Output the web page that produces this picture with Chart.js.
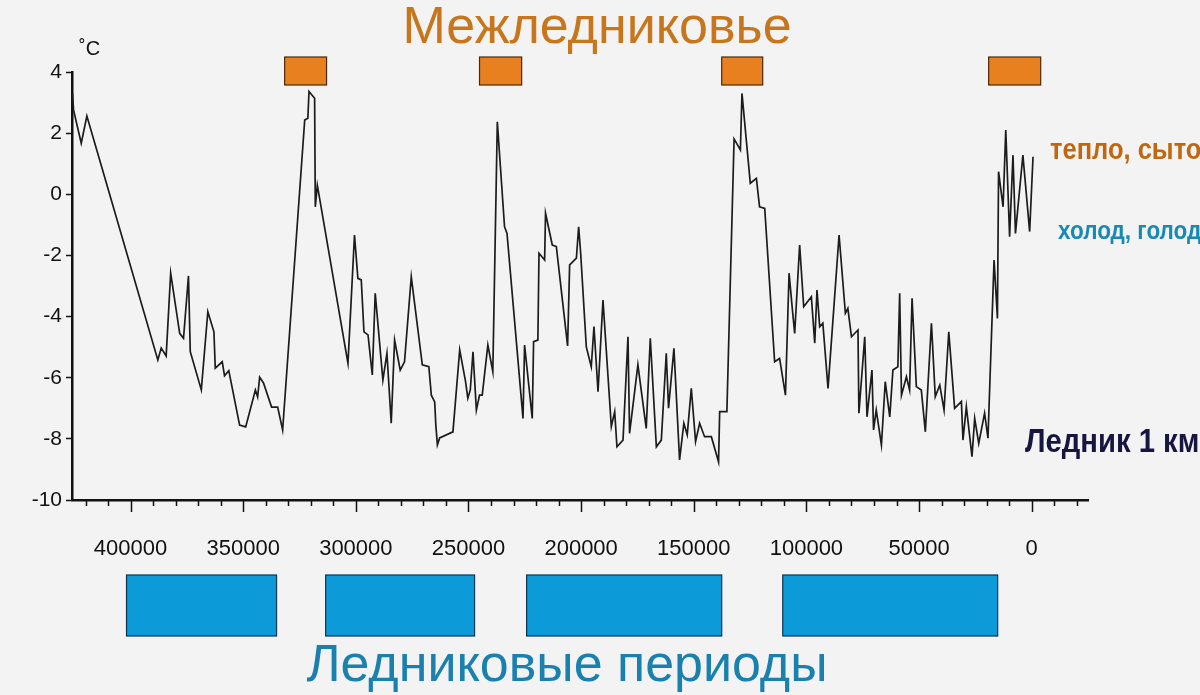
<!DOCTYPE html>
<html>
<head>
<meta charset="utf-8">
<script src="https://cdn.jsdelivr.net/npm/chart.js@4/dist/chart.umd.min.js"></script>
<style>
  body { margin: 0; background: #f3f3f3; }
  canvas { display: block; }
</style>
</head>
<body>
<canvas id="chart" width="1200" height="695"></canvas>
<script>
// years before present / temperature anomaly
const ages = [
  425800, 425300, 421900, 419400, 387900, 386400, 384200, 382200, 378200, 376500, 374300,
  373500, 368600, 365700, 363000, 362400, 359300, 358300, 356400, 351600, 348900,
  344600, 343600, 342700, 341000, 337400, 334700, 332500, 322700, 321300, 320800,
  318300, 318000, 317100, 303500, 300600, 299100, 297600, 296400, 294600, 292700,
  291400, 288000, 286200, 284300, 282800, 280300, 278400, 275400, 270500, 267600,
  266500, 265000, 264500, 263800, 262800, 256900, 253900, 251300, 250300, 249200,
  248000, 246500, 245100, 243900, 241400, 239200, 237200, 234000, 232900, 225800,
  225100, 221700, 221100, 219200, 218700, 216200, 215800, 212800, 211000, 206000,
  205100, 202100, 201100, 200200, 197700, 195500, 194300, 192500, 190300, 186600,
  185100, 184100, 181400, 179200, 178500, 174800, 171100, 169300, 166600, 164400,
  162200, 161200, 158800, 156300, 154400, 152900, 151100, 149200, 147400, 145200,
  142200, 139000, 138500, 135300, 132100, 129300, 128600, 124900, 122200, 120800,
  118500, 114100, 111900, 109300, 107700, 106200, 105200, 103000, 101200, 97800,
  96300, 95300, 94100, 92700, 90400, 85500, 82700, 81600, 80000, 77100,
  76700, 74100, 73100, 70900, 70200, 69000, 66700, 65000, 63000, 61600,
  59400, 58600, 57800, 55600, 54200, 53100, 51200, 49000, 47200, 44500,
  42800, 40800, 38900, 36800, 34200, 31200, 30500, 29000, 26500, 25300,
  23500, 20900, 19400, 16700, 15200, 14700, 12700, 11500, 9800, 8300,
  7200, 3900, 900, -600
];
const temps = [
  3.3, 2.75, 1.67, 2.56, -5.42, -5.03, -5.29, -2.58, -4.55, -4.71, -2.67,
  -5.15, -6.40, -3.84, -4.50, -5.69, -5.48, -5.94, -5.77, -7.55, -7.61,
  -6.40, -6.63, -5.98, -6.17, -6.96, -6.96, -7.71, 2.43, 2.49, 3.36,
  3.14, -0.41, 0.30, -5.53, -1.33, -2.75, -2.80, -4.50, -4.60, -5.91,
  -3.24, -6.08, -5.20, -7.49, -4.77, -5.75, -5.48, -2.70, -5.58, -5.64,
  -6.57, -6.79, -7.55, -8.20, -7.97, -7.77, -5.09, -6.13, -6.67, -6.40,
  -5.15, -7.06, -6.57, -6.57, -4.93, -5.80, 2.37, -1.06, -1.28, -7.33,
  -4.93, -7.33, -4.82, -4.77, -1.93, -2.15, -0.62, -1.66, -1.71, -4.96,
  -2.31, -2.09, -1.06, -1.93, -4.99, -5.64, -4.33, -6.46, -3.46, -7.60,
  -7.11, -8.26, -8.04, -4.66, -7.82, -5.58, -7.66, -4.71, -8.26, -8.04,
  -5.20, -7.00, -5.04, -8.69, -7.49, -7.87, -6.35, -8.09, -7.49, -7.93,
  -7.93, -8.75, -7.11, -7.11, 1.81, 1.45, 3.30, 0.36, 0.52, -0.41,
  -0.46, -5.48, -5.37, -6.57, -2.58, -3.79, -4.55, -1.66, -3.68, -3.35,
  -4.87, -3.13, -4.33, -4.22, -6.35, -1.33, -3.89, -3.73, -4.66, -4.44,
  -7.16, -4.66, -7.28, -5.75, -7.71, -7.06, -8.20, -6.13, -7.28, -5.75,
  -5.64, -3.24, -6.57, -5.97, -6.40, -3.40, -6.29, -6.40, -7.77, -4.22,
  -6.62, -6.24, -7.06, -4.50, -7.00, -6.78, -8.04, -6.95, -8.58, -7.33,
  -8.15, -7.16, -7.98, -2.15, -4.06, 0.74, -0.41, 2.10, -1.39, 1.28,
  -1.28, 1.28, -1.22, 1.23
];

// periods, [from, to] in years before present
const interglacials = [[331600, 313000], [245100, 226400], [137600, 119400], [19100, -4000]];
const glacials = [[401800, 335200], [313400, 247300], [224200, 137600], [110500, 15100]];

const xTicks = [0, 50000, 100000, 150000, 200000, 250000, 300000, 350000, 400000];
const xMinorStep = 10000;

const SANS = '"Liberation Sans", Arial, sans-serif';

const decor = {
  id: 'decor',
  afterDraw(chart) {
    const { ctx, chartArea: area, scales: { x } } = chart;
    ctx.save();

    // x ticks, long every 50000, short every 10000
    ctx.strokeStyle = '#111';
    ctx.lineWidth = 1.5;
    for (let v = -20000; v <= 420000; v += xMinorStep) {
      const px = Math.round(x.getPixelForValue(v)) + 0.5;
      const len = xTicks.includes(v) ? 12 : 6;
      ctx.beginPath();
      ctx.moveTo(px, area.bottom);
      ctx.lineTo(px, area.bottom + len);
      ctx.stroke();
    }

    // period boxes
    const box = (range, top, h, fill, stroke) => {
      const x1 = x.getPixelForValue(range[0]);
      const x2 = x.getPixelForValue(range[1]);
      ctx.fillStyle = fill;
      ctx.fillRect(x1, top, x2 - x1, h);
      ctx.strokeStyle = stroke;
      ctx.lineWidth = 1.2;
      ctx.strokeRect(x1, top, x2 - x1, h);
    };
    interglacials.forEach(r => box(r, area.top - 15, 28, '#e8801f', '#4a2a08'));
    glacials.forEach(r => box(r, area.bottom + 75, 61, '#0c9ad8', '#0b3550'));

    // texts
    ctx.textBaseline = 'middle';
    ctx.textAlign = 'center';
    ctx.fillStyle = '#c8761c';
    ctx.font = '52px ' + SANS;
    ctx.fillText('Межледниковье', 597, 29);
    ctx.fillStyle = '#1a80ae';
    ctx.fillText('Ледниковые периоды', 567, 667);

    ctx.textAlign = 'left';
    ctx.fillStyle = '#111';
    ctx.font = '20px ' + SANS;
    ctx.fillText('˚C', 79, 49);

    // condensed bold labels on the right
    const narrow = (text, left, y, size, sx, color) => {
      ctx.save();
      ctx.translate(left, y);
      ctx.scale(sx, 1);
      ctx.font = 'bold ' + size + 'px ' + SANS;
      ctx.fillStyle = color;
      ctx.fillText(text, 0, 0);
      ctx.restore();
    };
    narrow('тепло, сыто', 1050, 151, 30, 0.85, '#c0670f');
    narrow('холод, голод', 1058, 232, 25, 0.9, '#168ab4');
    narrow('Ледник 1 км', 1025, 443, 34, 0.86, '#161640');

    ctx.restore();
  }
};

const ctx = document.getElementById('chart').getContext('2d');
const chart = new Chart(ctx, {
  type: 'line',
  data: {
    datasets: [{
      data: ages.map((a, i) => ({ x: a, y: temps[i] })),
      borderColor: '#1c1c1c',
      borderWidth: 1.7,
      pointRadius: 0,
      tension: 0,
      fill: false
    }]
  },
  options: {
    responsive: false,
    animation: false,
    layout: { padding: { top: 72, right: 112, left: 0, bottom: 0 } },
    plugins: { legend: { display: false }, tooltip: { enabled: false } },
    scales: {
      x: {
        type: 'linear',
        reverse: true,
        min: -25000,
        max: 426000,
        border: { color: '#111', width: 2.5 },
        grid: { display: false, drawTicks: false },
        afterBuildTicks: s => { s.ticks = xTicks.map(v => ({ value: v })); },
        ticks: {
          autoSkip: false,
          maxRotation: 0,
          padding: 36,
          color: '#111',
          font: { family: SANS, size: 22 },
          callback: v => String(v)
        },
        afterFit: s => { s.height = 195; }
      },
      y: {
        min: -10,
        max: 4,
        border: { color: '#111', width: 2.5 },
        grid: { drawOnChartArea: false, tickLength: 6, tickColor: '#111', tickWidth: 1.5 },
        ticks: {
          stepSize: 2,
          padding: 4,
          color: '#111',
          font: { family: SANS, size: 21 }
        },
        afterFit: s => { s.width = 72; }
      }
    }
  },
  plugins: [decor]
});
</script>
</body>
</html>
